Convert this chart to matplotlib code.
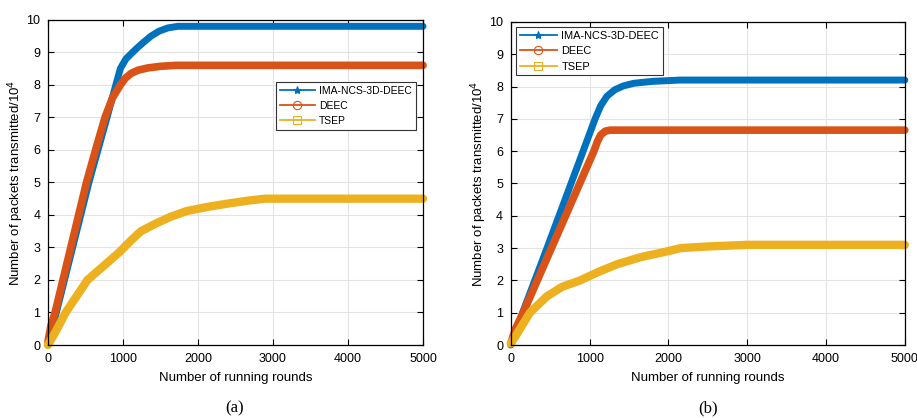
import matplotlib.pyplot as plt
from matplotlib.lines import Line2D

plt.rcParams['font.family'] = ['Liberation Sans', 'DejaVu Sans']

# (a) values (rounds, packets/1e4)
a_ima_x = [0, 90, 546, 788, 905, 965, 1040, 1173, 1270, 1374, 1480, 1597, 1731, 2000, 3000, 5000]
a_ima_y = [0.0, 0.8, 5.0, 7.0, 8.0, 8.5, 8.8, 9.1, 9.3, 9.5, 9.65, 9.75, 9.8, 9.8, 9.8, 9.8]
a_deec_x = [0, 40, 95, 514, 635, 761, 860, 966, 1030, 1107, 1200, 1330, 1500, 1700, 2500, 5000]
a_deec_y = [0.1, 0.6, 1.0, 5.0, 6.0, 7.0, 7.6, 8.0, 8.2, 8.35, 8.45, 8.52, 8.57, 8.6, 8.6, 8.6]
a_tsep_x = [0, 100, 236, 527, 950, 1100, 1240, 1450, 1642, 1850, 2133, 2400, 2700, 2900, 3500, 5000]
a_tsep_y = [0.0, 0.4, 1.0, 2.0, 2.85, 3.2, 3.5, 3.75, 3.95, 4.12, 4.25, 4.35, 4.45, 4.5, 4.5, 4.5]

# (b)
b_ima_x = [0, 150, 460, 765, 918, 1070, 1140, 1220, 1320, 1430, 1560, 1800, 2150, 3000, 5000]
b_ima_y = [0.0, 1.0, 3.0, 5.0, 6.0, 7.0, 7.4, 7.7, 7.9, 8.02, 8.1, 8.16, 8.2, 8.2, 8.2]
b_deec_x = [0, 60, 157, 516, 875, 1055, 1100, 1140, 1200, 1260, 1500, 2500, 5000]
b_deec_y = [0.05, 0.5, 1.0, 3.0, 5.0, 6.0, 6.3, 6.5, 6.62, 6.65, 6.65, 6.65, 6.65]
b_tsep_x = [0, 80, 243, 455, 650, 881, 1100, 1349, 1650, 1987, 2157, 2500, 3000, 3500, 5000]
b_tsep_y = [0.05, 0.35, 1.0, 1.5, 1.8, 2.0, 2.25, 2.5, 2.72, 2.9, 3.0, 3.05, 3.1, 3.1, 3.1]

labels = ["IMA-NCS-3D-DEEC", "DEEC", "TSEP"]
colors = ["#0072BD", "#D95319", "#EDB120"]
markers = ["*", "o", "s"]
widths = [5.0, 5.5, 6.0]

fig = plt.figure(figsize=(9.17, 4.18), dpi=100)
ax1 = fig.add_axes([0.0523, 0.1746, 0.409, 0.778])
ax2 = fig.add_axes([0.557, 0.1746, 0.4297, 0.773])

series = [
    (ax1, [(a_ima_x, a_ima_y), (a_deec_x, a_deec_y), (a_tsep_x, a_tsep_y)]),
    (ax2, [(b_ima_x, b_ima_y), (b_deec_x, b_deec_y), (b_tsep_x, b_tsep_y)]),
]

for ax, data in series:
    for (x, y), c, w in zip(data, colors, widths):
        ax.plot(x, y, color=c, lw=w, solid_capstyle='round', solid_joinstyle='round', clip_on=False)
    ax.set_xlim(0, 5000)
    ax.set_ylim(0, 10)
    ax.set_xticks(range(0, 5001, 1000))
    ax.set_yticks(range(0, 11))
    ax.grid(True, color='#e3e3e3', lw=0.8)
    ax.set_axisbelow(True)
    ax.tick_params(direction='in', top=True, right=True, labelsize=9, length=4, width=0.8, pad=5.5)
    for s in ax.spines.values():
        s.set_linewidth(0.9)
        s.set_zorder(3)
    ax.set_xlabel("Number of running rounds", fontsize=9.5, labelpad=5)
    ax.set_ylabel("Number of packets transmitted/10$^4$", fontsize=9.5, labelpad=0)

handles = [Line2D([0], [0], color=c, lw=1.3, marker=m, markersize=6, markerfacecolor='none' if m != '*' else c,
                  markeredgecolor=c, markeredgewidth=0.8) for c, m in zip(colors, markers)]
for ax, loc, fs in [(ax1, (0.608, 0.809), 7.5), (ax2, (0.013, 0.985), 7.9)]:
    leg = ax.legend(handles, labels, loc='upper left', bbox_to_anchor=loc, fontsize=fs, frameon=True,
                    fancybox=False, edgecolor='#333333', framealpha=1, borderpad=0.35,
                    handlelength=3.4, handletextpad=0.4, labelspacing=0.5, borderaxespad=0)
    leg.get_frame().set_linewidth(0.8)

fig.text(235 / 917, 1 - 408 / 418, "(a)", fontsize=12, family=['Liberation Serif', 'DejaVu Serif'], ha='center', va='center')
fig.text(708 / 917, 1 - 408 / 418, "(b)", fontsize=12, family=['Liberation Serif', 'DejaVu Serif'], ha='center', va='center')

fig.savefig("out.png", dpi=100)
